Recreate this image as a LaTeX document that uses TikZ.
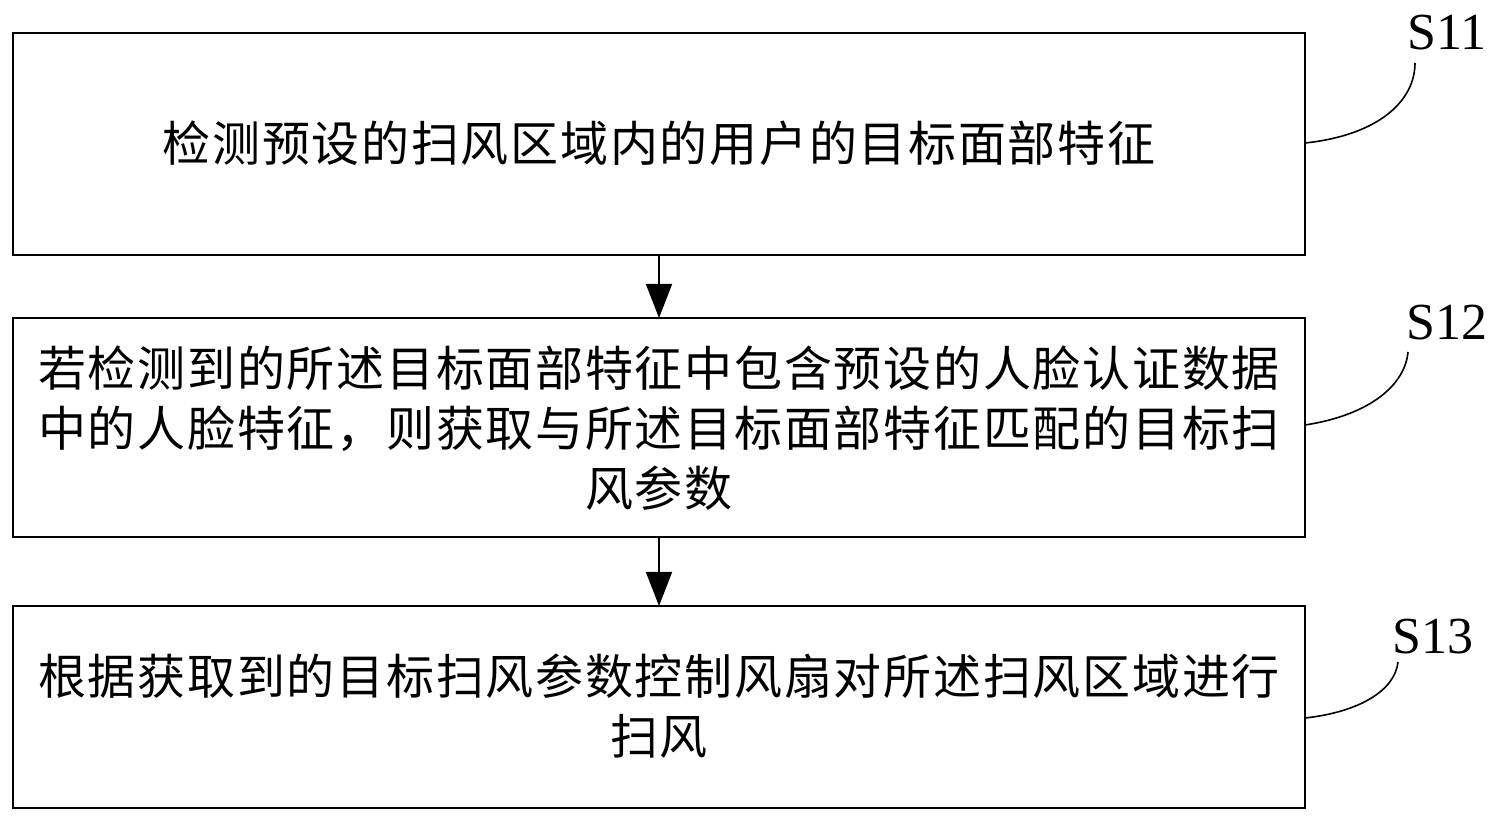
\documentclass[tikz,border=0pt]{standalone}
\usepackage{fontspec}
\setmainfont{Liberation Serif}
\newfontfamily\cjk[LetterSpace=3.6]{Noto Sans CJK SC}
\usetikzlibrary{arrows.meta}
\begin{document}
\begin{tikzpicture}[x=0.5pt,y=-0.5pt,
  box/.style={draw,line width=0.8pt},
  txt/.style={font=\cjk\fontsize{24}{30}\selectfont,align=center,inner sep=0},
  lab/.style={font=\fontsize{26}{28}\selectfont,inner sep=0},
  arr/.style={-{Triangle[length=17pt,width=13pt]},line width=0.8pt}]
\useasboundingbox (0,0) rectangle (1500,823);
\draw[box] (13,33) rectangle (1305,255);
\draw[box] (13,318) rectangle (1305,537);
\draw[box] (13,606) rectangle (1305,808);
\node[txt] (t1) at (659,143) {检测预设的扫风区域内的用户的目标面部特征};
\node[txt] (t2) at (659,428) {若检测到的所述目标面部特征中包含预设的人脸认证数据\\中的人脸特征，则获取与所述目标面部特征匹配的目标扫\\风参数};
\node[txt] (t3) at (659,706) {根据获取到的目标扫风参数控制风扇对所述扫风区域进行\\扫风};
\coordinate (b1) at (659,255); \coordinate (c2) at (659,318);
\coordinate (b2) at (659,537); \coordinate (c3) at (659,606);
\draw[arr] (b1) -- (c2);
\draw[arr] (b2) -- (c3);
\node[lab] (s1) at (1447,33) {S11};
\node[lab] (s2) at (1447,323) {S12};
\node[lab] (s3) at (1433,637) {S13};
\coordinate (e1) at (1305,143); \coordinate (e2) at (1305,425); \coordinate (e3) at (1305,718);
\draw[line width=0.8pt] (e1) .. controls (1380,135) and (1415,100) .. (1415,63);
\draw[line width=0.8pt] (e2) .. controls (1370,415) and (1405,385) .. (1408,352);
\draw[line width=0.8pt] (e3) .. controls (1360,712) and (1395,690) .. (1398,662);
\end{tikzpicture}
\end{document}
